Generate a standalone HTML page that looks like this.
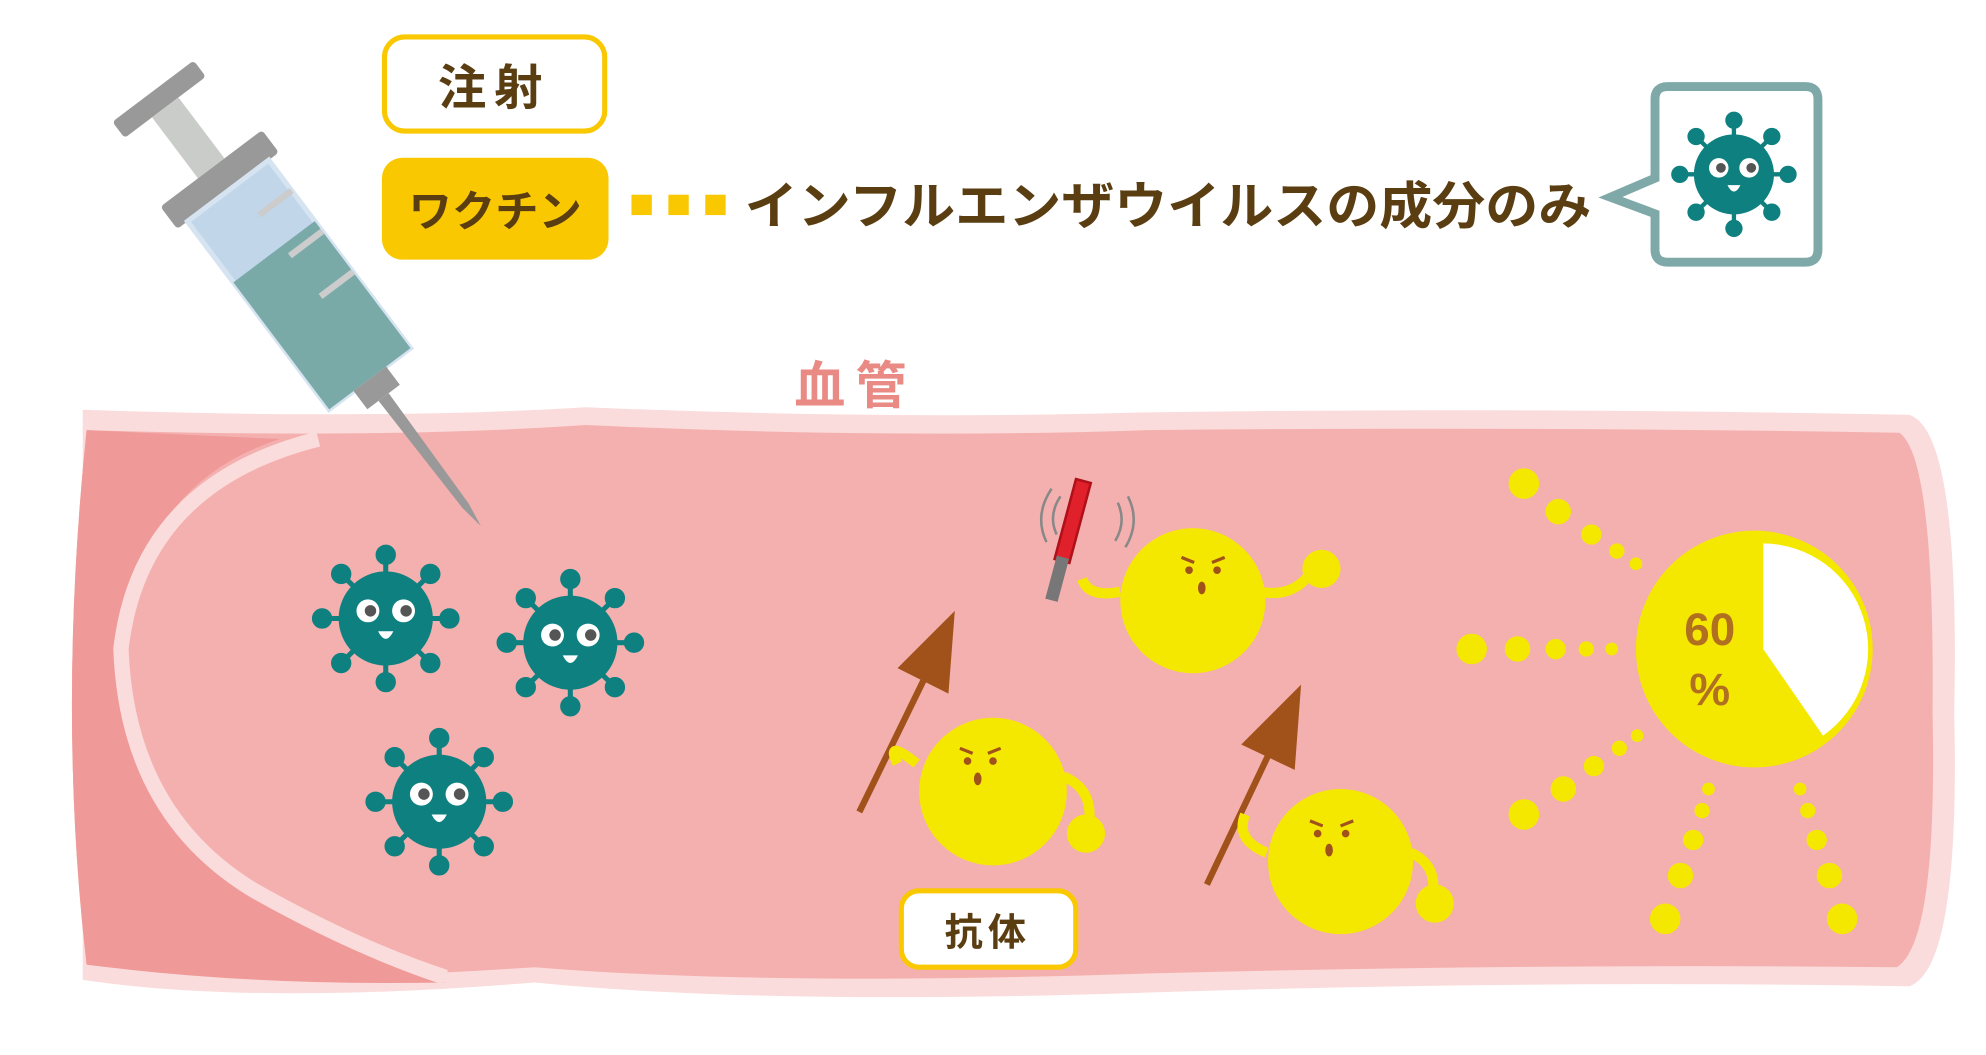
<!DOCTYPE html>
<html><head><meta charset="utf-8"><style>
html,body{margin:0;padding:0;background:#fff;}
svg{display:block;}
text{font-family:"Liberation Sans","Noto Sans CJK JP",sans-serif;font-weight:bold;}
</style></head><body>
<svg width="1986" height="1055" viewBox="0 0 1560 829" preserveAspectRatio="none" xmlns="http://www.w3.org/2000/svg">
<defs>
<g id="virus">
  <g stroke="#0f8080" stroke-width="4" fill="#0f8080">
    <line x1="0" y1="0" x2="0" y2="-50"/><circle cx="0" cy="-50" r="6"/>
    <line x1="0" y1="0" x2="0" y2="50"/><circle cx="0" cy="50" r="6"/>
    <line x1="0" y1="0" x2="-50" y2="0"/><circle cx="-50" cy="0" r="6"/>
    <line x1="0" y1="0" x2="50" y2="0"/><circle cx="50" cy="0" r="6"/>
    <line x1="0" y1="0" x2="35" y2="35"/><circle cx="35" cy="35" r="6"/>
    <line x1="0" y1="0" x2="-35" y2="35"/><circle cx="-35" cy="35" r="6"/>
    <line x1="0" y1="0" x2="35" y2="-35"/><circle cx="35" cy="-35" r="6"/>
    <line x1="0" y1="0" x2="-35" y2="-35"/><circle cx="-35" cy="-35" r="6"/>
  </g>
  <circle r="37" fill="#0f8080"/>
  <circle cx="-14" cy="-6" r="9" fill="#fff"/><circle cx="14" cy="-6" r="9" fill="#fff"/>
  <circle cx="-12" cy="-6" r="4.5" fill="#555"/><circle cx="16" cy="-6" r="4.5" fill="#555"/>
  <path d="M-6 10 Q0 22 6 10 Z" fill="#fff"/>
</g>
</defs>

<path d="M65 322 Q300 330 460 320 Q700 330 900 324 Q1200 320 1500 326 Q1540 340 1535 560 Q1540 760 1500 775 Q1200 770 900 780 Q600 790 420 772 Q200 790 65 770 Z" fill="#fbdcdc"/>
<path d="M68 338 Q300 345 460 334 Q700 345 900 338 Q1200 335 1492 340 Q1520 360 1518 560 Q1522 740 1490 760 Q1200 757 900 765 Q600 775 420 760 Q200 775 68 758 Q45 560 68 338 Z" fill="#f4b0ae"/>
<path d="M68 338 L220 345 Q110 380 95 510 Q100 640 200 700 Q280 745 350 772 Q200 775 68 758 Q45 560 68 338 Z" fill="#ef9a98"/>
<path d="M250 345 Q110 380 95 510 Q100 640 200 700 Q280 745 350 768" fill="none" stroke="#fbdcdc" stroke-width="12"/>

<g transform="translate(125,78) rotate(53)">
  <rect x="-8" y="-40" width="16" height="80" rx="3" fill="#999"/>
  <rect x="8" y="-13" width="60" height="26" fill="#c9ccc8"/>
  <rect x="68" y="-50" width="22" height="100" rx="3" fill="#999"/>
  <rect x="90" y="-40" width="185" height="80" fill="#c2d6ea" stroke="#d6e4f2" stroke-width="4"/>
  <rect x="150" y="-40" width="125" height="80" fill="#7aaaa8"/>
  <rect x="275" y="-16" width="18" height="32" fill="#999"/>
  <polygon points="293,-5 400,-3 420,0 400,3 293,5" fill="#999"/>
  <line x1="120" y1="-40" x2="120" y2="-8" stroke="#ccc" stroke-width="5"/>
  <line x1="160" y1="-40" x2="160" y2="-8" stroke="#ccc" stroke-width="5"/>
  <line x1="200" y1="-40" x2="200" y2="-8" stroke="#ccc" stroke-width="5"/>
</g>

<rect x="302" y="29" width="173" height="74" rx="16" fill="#fff" stroke="#f9c800" stroke-width="4"/>
<text x="388" y="82" font-size="38" fill="#5a3e12" text-anchor="middle" letter-spacing="6">注射</text>
<rect x="300" y="124" width="178" height="80" rx="16" fill="#f9c800"/>
<text x="389" y="178" font-size="34" fill="#5a3e12" text-anchor="middle">ワクチン</text>
<rect x="496" y="153" width="16" height="16" fill="#f9c800"/>
<rect x="525" y="153" width="16" height="16" fill="#f9c800"/>
<rect x="554" y="153" width="16" height="16" fill="#f9c800"/>
<text x="585" y="176" font-size="40" fill="#5a3e12" textLength="665" lengthAdjust="spacingAndGlyphs">インフルエンザウイルスの成分のみ</text>
<path d="M1310 68 H1418 Q1428 68 1428 78 V196 Q1428 206 1418 206 H1310 Q1300 206 1300 196 V168 L1265 155 L1300 140 V78 Q1300 68 1310 68 Z" fill="#fff" stroke="#7fa9a8" stroke-width="7"/>
<use href="#virus" transform="translate(1362,137) scale(0.85)"/>
<text x="672" y="317" font-size="40" fill="#e98a85" text-anchor="middle" letter-spacing="8">血管</text>

<use href="#virus" transform="translate(303,486)"/>
<use href="#virus" transform="translate(448,505)"/>
<use href="#virus" transform="translate(345,630)"/>

<g fill="#a0521a" stroke="#a0521a" stroke-width="5">
  <line x1="675" y1="638" x2="735" y2="515"/><polygon points="750,480 745,545 705,525" stroke="none"/>
  <line x1="948" y1="695" x2="1005" y2="575"/><polygon points="1022,538 1017,605 975,585" stroke="none"/>
</g>

<g fill="#f5e800" stroke="#f5e800">
  <path d="M720 600 Q695 580 705 600" fill="none" stroke-width="8"/>
  <path d="M835 610 Q860 620 855 650" fill="none" stroke-width="8"/>
  <circle cx="853" cy="655" r="15" stroke="none"/>
  <circle cx="780" cy="622" r="58" stroke="none"/>
  <path d="M880 465 Q855 470 850 455" fill="none" stroke-width="8"/>
  <path d="M990 465 Q1015 470 1030 450" fill="none" stroke-width="8"/>
  <circle cx="1038" cy="447" r="15" stroke="none"/>
  <circle cx="937" cy="472" r="57" stroke="none"/>
  <path d="M995 670 Q970 660 978 640" fill="none" stroke-width="8"/>
  <path d="M1108 670 Q1130 680 1125 705" fill="none" stroke-width="8"/>
  <circle cx="1127" cy="710" r="15" stroke="none"/>
  <circle cx="1053" cy="677" r="57" stroke="none"/>
</g>
<g fill="#a0521a">
  <circle cx="760" cy="598" r="3"/><circle cx="780" cy="598" r="3"/><ellipse cx="768" cy="612" rx="3" ry="5"/>
  <circle cx="934" cy="448" r="3"/><circle cx="956" cy="448" r="3"/><ellipse cx="944" cy="462" rx="3" ry="5"/>
  <circle cx="1035" cy="655" r="3"/><circle cx="1057" cy="655" r="3"/><ellipse cx="1044" cy="668" rx="3" ry="5"/>
</g>
<g stroke="#a0521a" stroke-width="2.5" fill="none">
  <path d="M754 588 L764 592 M786 588 L776 592"/>
  <path d="M928 438 L938 442 M962 438 L952 442"/>
  <path d="M1029 645 L1039 649 M1063 645 L1053 649"/>
</g>
<g transform="translate(851,378) rotate(15)">
  <rect x="-6" y="0" width="12" height="65" fill="#e0202a" stroke="#b0101a" stroke-width="2"/>
  <rect x="-5" y="62" width="10" height="35" fill="#777"/>
</g>
<path d="M833 390 Q823 405 830 420 M826 384 Q812 405 822 426 M878 395 Q885 410 876 425 M886 390 Q896 410 884 430" fill="none" stroke="#888" stroke-width="2"/>

<rect x="708" y="700" width="137" height="60" rx="14" fill="#fff" stroke="#f9c800" stroke-width="4"/>
<text x="776" y="743" font-size="30" fill="#5a3e12" text-anchor="middle" letter-spacing="4">抗体</text>

<circle cx="1378" cy="510" r="93" fill="#f5e800"/>
<path d="M1385 427 A83 83 0 0 1 1432 578 L1385 510 Z" fill="#fff"/>
<text x="1343" y="507" font-size="36" fill="#b07020" text-anchor="middle">60</text>
<text x="1343" y="554" font-size="36" fill="#b07020" text-anchor="middle">%</text>
<g fill="#f5e800">
  <circle cx="1197" cy="380" r="12"/><circle cx="1224" cy="402" r="10"/><circle cx="1250" cy="420" r="8"/><circle cx="1270" cy="433" r="6"/><circle cx="1285" cy="443" r="5"/>
  <circle cx="1156" cy="510" r="12"/><circle cx="1192" cy="510" r="10"/><circle cx="1222" cy="510" r="8"/><circle cx="1246" cy="510" r="6"/><circle cx="1266" cy="510" r="5"/>
  <circle cx="1197" cy="640" r="12"/><circle cx="1228" cy="620" r="10"/><circle cx="1252" cy="602" r="8"/><circle cx="1272" cy="588" r="6"/><circle cx="1286" cy="578" r="5"/>
  <circle cx="1308" cy="722" r="12"/><circle cx="1320" cy="688" r="10"/><circle cx="1330" cy="660" r="8"/><circle cx="1337" cy="637" r="6"/><circle cx="1342" cy="620" r="5"/>
  <circle cx="1447" cy="722" r="12"/><circle cx="1437" cy="688" r="10"/><circle cx="1427" cy="660" r="8"/><circle cx="1420" cy="637" r="6"/><circle cx="1414" cy="620" r="5"/>
</g>
</svg>
</body></html>
